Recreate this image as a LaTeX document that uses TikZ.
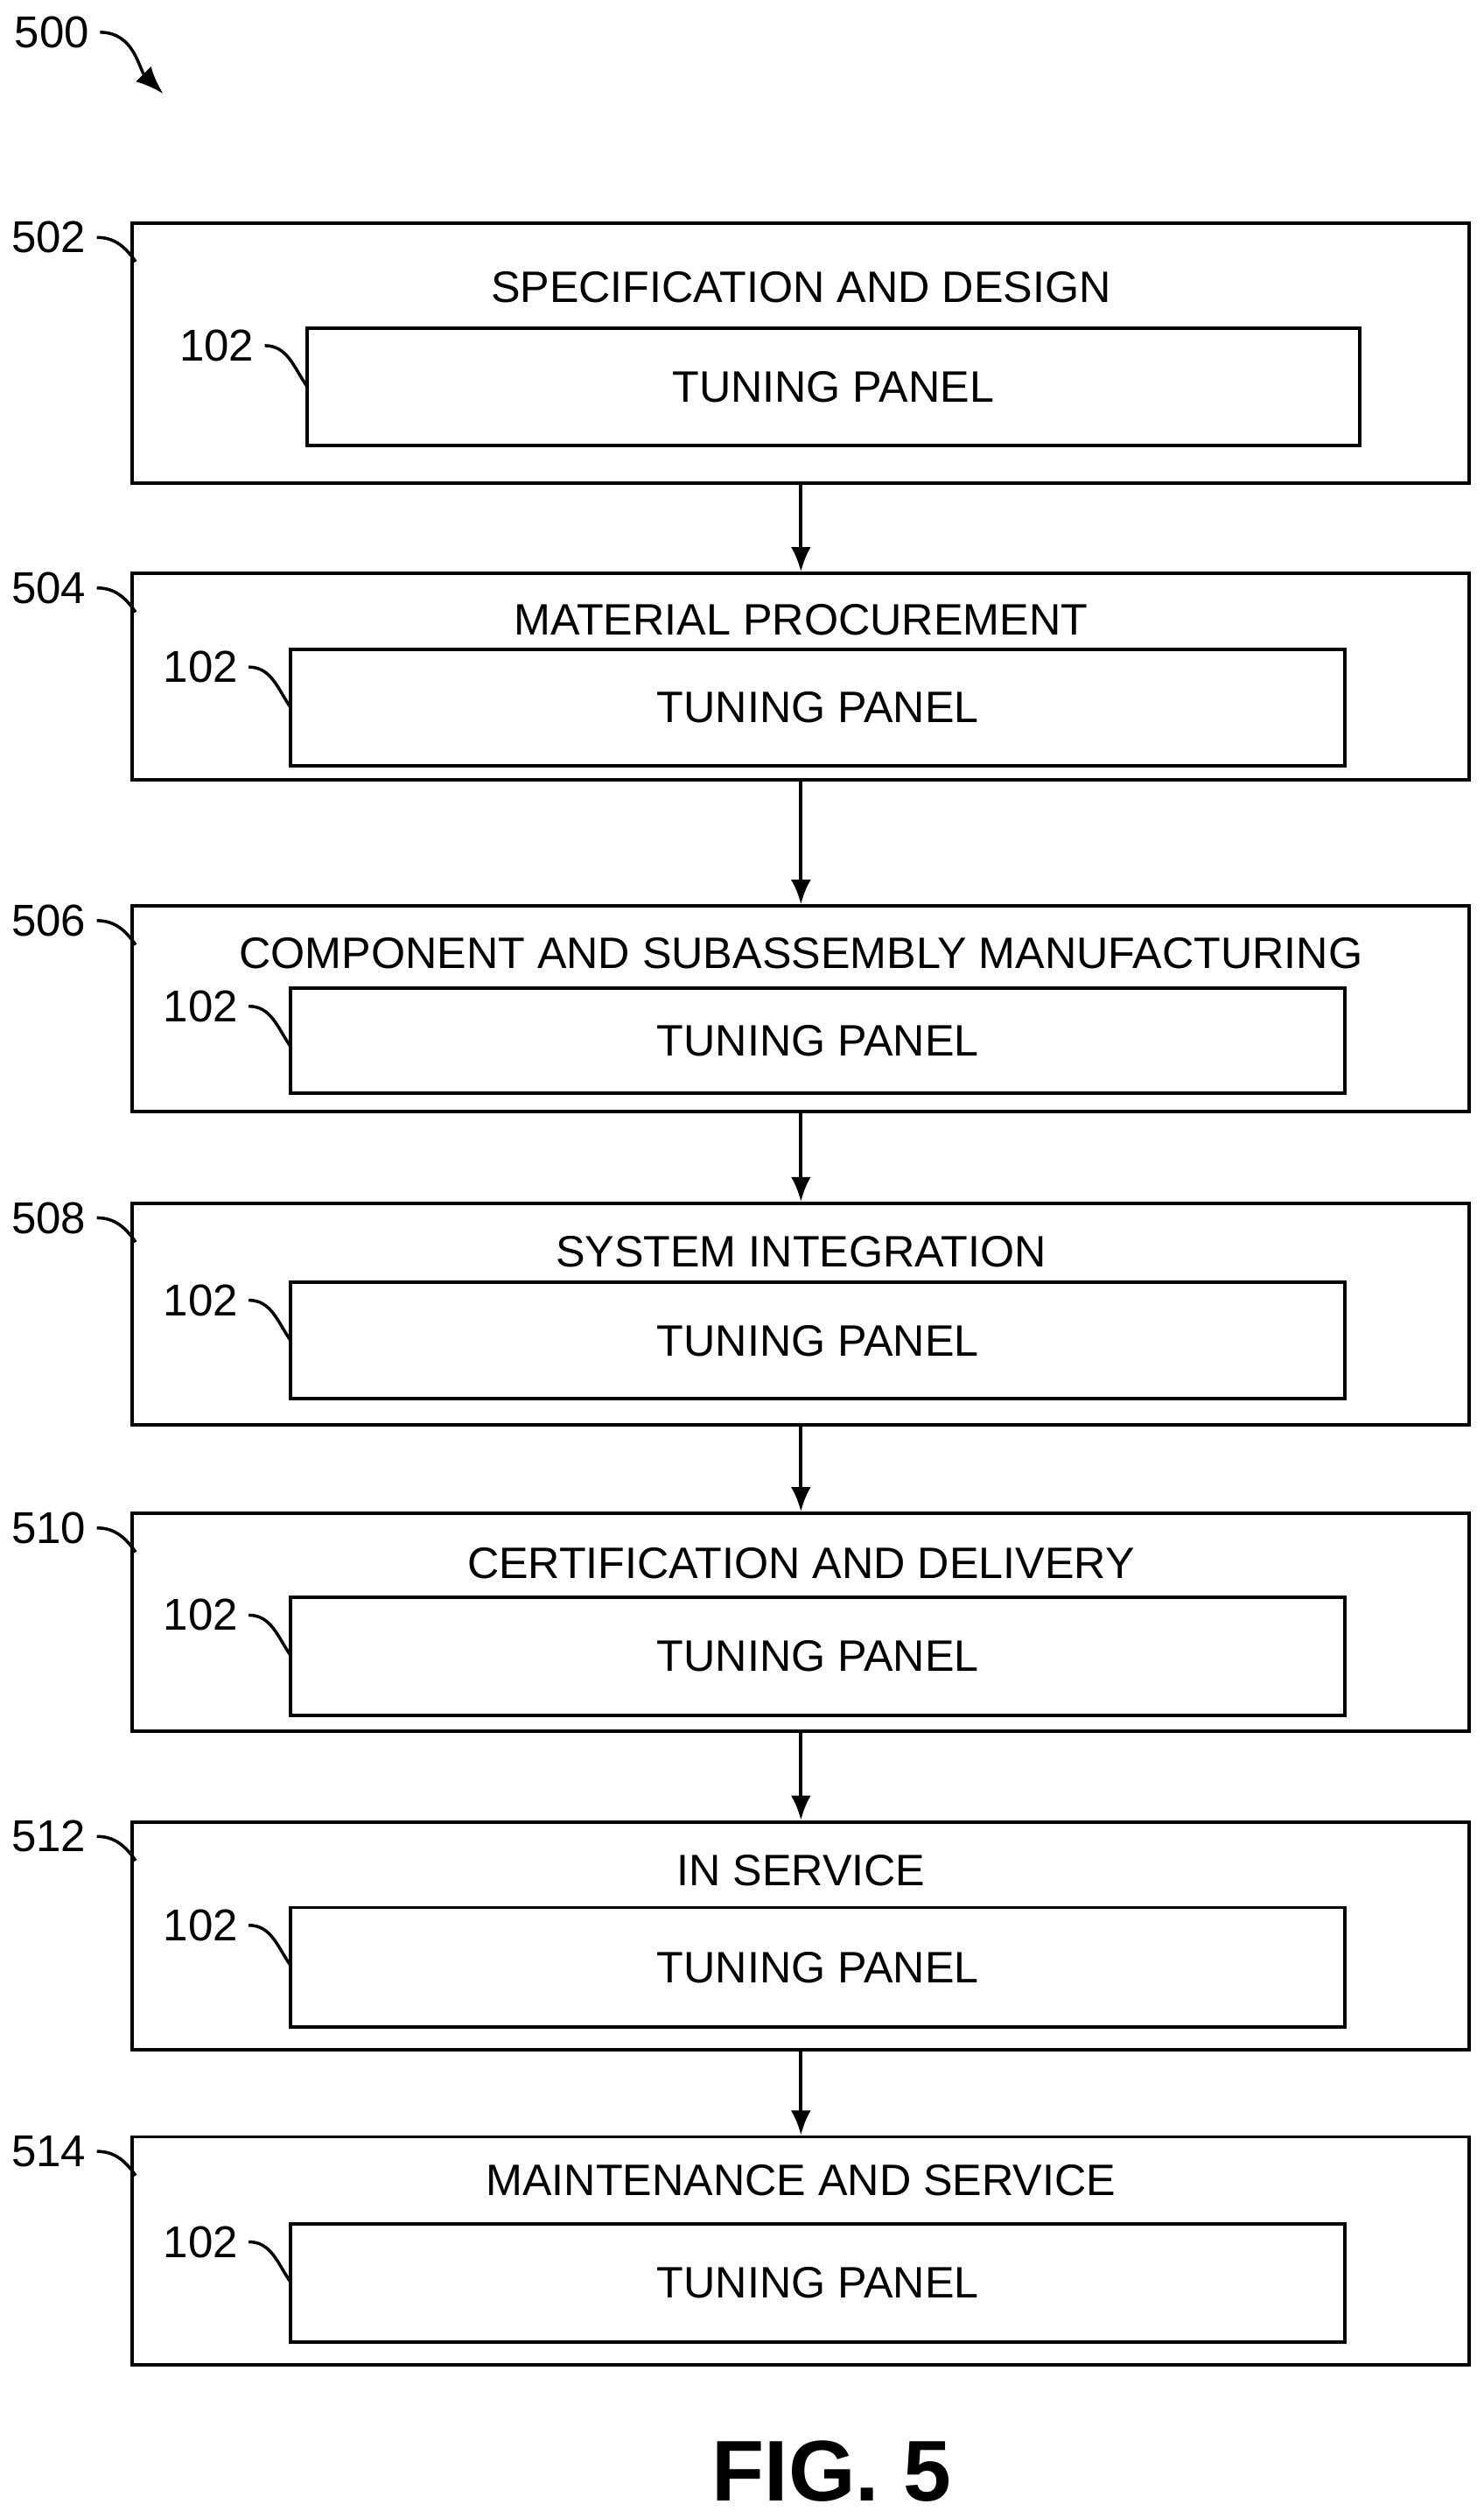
\documentclass[tikz,border=0pt]{standalone}
\usepackage{fontspec}
\setmainfont{Liberation Sans}
\usetikzlibrary{positioning,arrows.meta}
\begin{document}
\begin{tikzpicture}[x=0.01845cm, y=-0.01845cm]
    \tikzset{
    stage/.style={
        rectangle,
        draw,
        line width=1.1pt,
        inner sep=0pt
    },
    title/.style={
        font=\fontsize{14.3}{17}\selectfont
    },
    refnum/.style={
        font=\fontsize{14.5}{17}\selectfont
    },
    leader/.style={
        line width=1pt
    },
    arrow/.style={
        -{Latex[length=8pt,width=6.5pt]}, line width=1.1pt
    }
}
    \useasboundingbox (0,0) rectangle (919,1559);

    % Etapes
    \foreach \n/\top/\bot/\ty/\il/\ir/\it/\ib/\txt in {
        502/138/299/178/190/842/203/276/SPECIFICATION AND DESIGN,
        504/355/483/384/180/833/402/474/MATERIAL PROCUREMENT,
        506/561/688/590/180/833/612/677/COMPONENT AND SUBASSEMBLY MANUFACTURING,
        508/745/882/775/180/833/794/866/SYSTEM INTEGRATION,
        510/937/1072/968/180/833/989/1062/CERTIFICATION AND DELIVERY,
        512/1128/1269/1158/180/833/1181/1255/IN SERVICE,
        514/1323/1464/1350/180/833/1377/1450/MAINTENANCE AND SERVICE}{
        \node[stage, minimum width={828*0.01845cm}, minimum height={(\bot-\top)*0.01845cm}] (s\n) at (496,{(\top+\bot)/2}) {};
        \node[title] (t\n) at (496,\ty) {\txt};
        \node[stage, minimum width={(\ir-\il)*0.01845cm}, minimum height={(\ib-\it)*0.01845cm}] (p\n) at ({(\il+\ir)/2},{(\it+\ib)/2}) {};
        \node[title] at (p\n) {TUNING PANEL};
        \node[refnum, anchor=east] (r\n) at (60,{\top+9}) {\n};
        \coordinate (c\n) at (84,{\top+24});
        \draw[leader] (r\n.east) to[out=0,in=125] (c\n);
        \node[refnum, anchor=east] (q\n) at ({\il-26},{\it+11}) {102};
        \coordinate (d\n) at ({\il},{\it+36});
        \draw[leader] (q\n.east) to[out=0,in=125] (d\n);
    }

    % Flèches
    \foreach \a/\b in {502/504, 504/506, 506/508, 508/510, 510/512, 512/514}
        \draw[arrow] (s\a.south) -- (s\b.north);

    \node[refnum, anchor=east] (r500) at (62,20) {500};
    \coordinate (c500) at (101,58);
    \draw[leader, -{Latex[length=9pt,width=7pt]}] (r500.east) to[out=0,in=135] (c500);

    \node[font=\fontsize{28}{32}\selectfont\bfseries] (fig) at (515,1530) {FIG. 5};
\end{tikzpicture}
\end{document}
